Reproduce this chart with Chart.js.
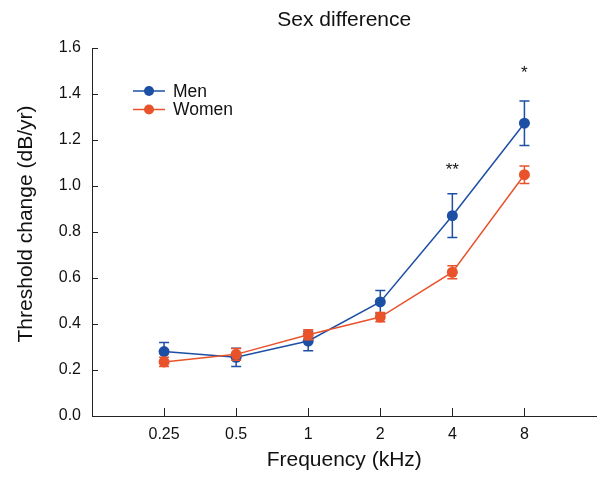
<!DOCTYPE html>
<html>
<head>
<meta charset="utf-8">
<script src="https://cdn.jsdelivr.net/npm/chart.js@4"></script>
<style>
  html, body { margin: 0; padding: 0; background: #fff; }
  #wrap { width: 602px; height: 477px; }
</style>
</head>
<body>
<div id="wrap"><canvas id="sexChart"></canvas></div>
<script>
// dados
const frequencies = ['0.25', '0.5', '1', '2', '4', '8'];
const menValues = [0.28, 0.255, 0.326, 0.496, 0.871, 1.273];
const menErrors = [0.04, 0.04, 0.042, 0.05, 0.095, 0.097];
const womenValues = [0.235, 0.268, 0.353, 0.43, 0.625, 1.049];
const womenErrors = [0.02, 0.026, 0.022, 0.02, 0.028, 0.038];
const sigMarks = ['', '', '', '', '**', '*'];
const sigLevels = [null, null, null, null, 1.07, 1.49];
const yTicks = [0, 0.2, 0.4, 0.6, 0.8, 1.0, 1.2, 1.4, 1.6];

const FONT = '"Liberation Sans", Arial, sans-serif';
const BLUE = '#1d4fa4';
const ORANGE = '#e9532b';

const toPoints = (vals) => vals.map((v, i) => ({ x: i + 1, y: v }));

// barras de erro, desenhadas junto com cada série
const errorBars = {
    id: 'errorBars',
    afterDatasetDraw(chart, args) {
        const ds = chart.data.datasets[args.index];
        if (!ds.errors) return;
        const { ctx, scales: { x, y } } = chart;
        ctx.save();
        ctx.strokeStyle = ds.borderColor;
        ctx.lineWidth = 1.5;
        ds.data.forEach((p, i) => {
            const px = x.getPixelForValue(p.x);
            const top = y.getPixelForValue(p.y + ds.errors[i]);
            const bot = y.getPixelForValue(p.y - ds.errors[i]);
            ctx.beginPath();
            ctx.moveTo(px, top); ctx.lineTo(px, bot);
            ctx.moveTo(px - 5, top); ctx.lineTo(px + 5, top);
            ctx.moveTo(px - 5, bot); ctx.lineTo(px + 5, bot);
            ctx.stroke();
        });
        ctx.restore();
    }
};

// ticks para dentro, título, legenda e asteriscos
const decorations = {
    id: 'decorations',
    afterDraw(chart) {
        const { ctx, chartArea, scales: { x, y } } = chart;
        ctx.save();
        ctx.strokeStyle = '#222';
        ctx.lineWidth = 1;
        ctx.beginPath();
        x.ticks.forEach(t => {
            const px = Math.round(x.getPixelForValue(t.value)) + 0.5;
            ctx.moveTo(px, chartArea.bottom);
            ctx.lineTo(px, chartArea.bottom - 8);
        });
        y.ticks.forEach(t => {
            const py = Math.round(y.getPixelForValue(t.value)) + 0.5;
            ctx.moveTo(chartArea.left, py);
            ctx.lineTo(chartArea.left + 6, py);
        });
        ctx.stroke();

        ctx.fillStyle = '#111';
        ctx.font = '21px ' + FONT;
        ctx.textAlign = 'center';
        ctx.textBaseline = 'middle';
        ctx.fillText('Sex difference', (chartArea.left + chartArea.right) / 2, 20);

        // eixo y: título desenhado à mão para acertar a posição
        ctx.save();
        ctx.translate(26, 224);
        ctx.rotate(-Math.PI / 2);
        ctx.fillText('Threshold change (dB/yr)', 0, 0);
        ctx.restore();

        ctx.font = '17px ' + FONT;
        sigMarks.forEach((m, i) => {
            if (!m) return;
            ctx.fillText(m, x.getPixelForValue(i + 1), y.getPixelForValue(sigLevels[i]));
        });

        chart.data.datasets.slice().sort((a, b) => a.legendRow - b.legendRow).forEach((ds, k) => {
            const ly = 91 + k * 18.5;
            ctx.strokeStyle = ds.borderColor;
            ctx.lineWidth = 1.5;
            ctx.beginPath();
            ctx.moveTo(133, ly); ctx.lineTo(165, ly);
            ctx.stroke();
            ctx.fillStyle = ds.borderColor;
            ctx.beginPath();
            ctx.arc(149, ly, 5, 0, Math.PI * 2);
            ctx.fill();
            ctx.fillStyle = '#111';
            ctx.font = '17.5px ' + FONT;
            ctx.textAlign = 'left';
            ctx.fillText(ds.label, 173, ly + 1);
        });
        ctx.restore();
    }
};

new Chart(document.getElementById('sexChart'), {
    type: 'line',
    data: {
        datasets: [
            {
                label: 'Women',
                legendRow: 1,
                data: toPoints(womenValues),
                errors: womenErrors,
                borderColor: ORANGE,
                backgroundColor: ORANGE,
                borderWidth: 1.5,
                pointRadius: 5.5,
                pointBorderWidth: 0,
                order: 0
            },
            {
                label: 'Men',
                legendRow: 0,
                data: toPoints(menValues),
                errors: menErrors,
                borderColor: BLUE,
                backgroundColor: BLUE,
                borderWidth: 1.5,
                pointRadius: 5.5,
                pointBorderWidth: 0,
                order: 1
            }
        ]
    },
    options: {
        responsive: true,
        maintainAspectRatio: false,
        animation: false,
        layout: { padding: { top: 48, right: 2, left: 0, bottom: 0 } },
        plugins: {
            legend: { display: false },
            tooltip: { enabled: false }
        },
        scales: {
            x: {
                type: 'linear',
                min: 0,
                max: 7,
                afterBuildTicks(scale) {
                    scale.ticks = frequencies.map((f, i) => ({ value: i + 1 }));
                },
                ticks: {
                    callback: (v) => frequencies[v - 1],
                    color: '#111',
                    font: { family: FONT, size: 16 },
                    padding: 9,
                    maxRotation: 0
                },
                grid: { drawOnChartArea: false, drawTicks: false },
                border: { color: '#222', width: 1 },
                title: {
                    display: true,
                    text: 'Frequency (kHz)',
                    color: '#111',
                    font: { family: FONT, size: 21 },
                    padding: { top: 5 }
                },
                afterFit(scale) { scale.height = 61; }
            },
            y: {
                min: 0,
                max: 1.6,
                afterBuildTicks(scale) {
                    scale.ticks = yTicks.map(v => ({ value: v }));
                },
                ticks: {
                    callback: (v) => v.toFixed(1),
                    color: '#111',
                    font: { family: FONT, size: 16 },
                    padding: 11
                },
                grid: { drawOnChartArea: false, drawTicks: false },
                border: { color: '#222', width: 1 },
                title: { display: false },
                afterFit(scale) { scale.width = 92; }
            }
        }
    },
    plugins: [errorBars, decorations]
});
</script>
</body>
</html>
